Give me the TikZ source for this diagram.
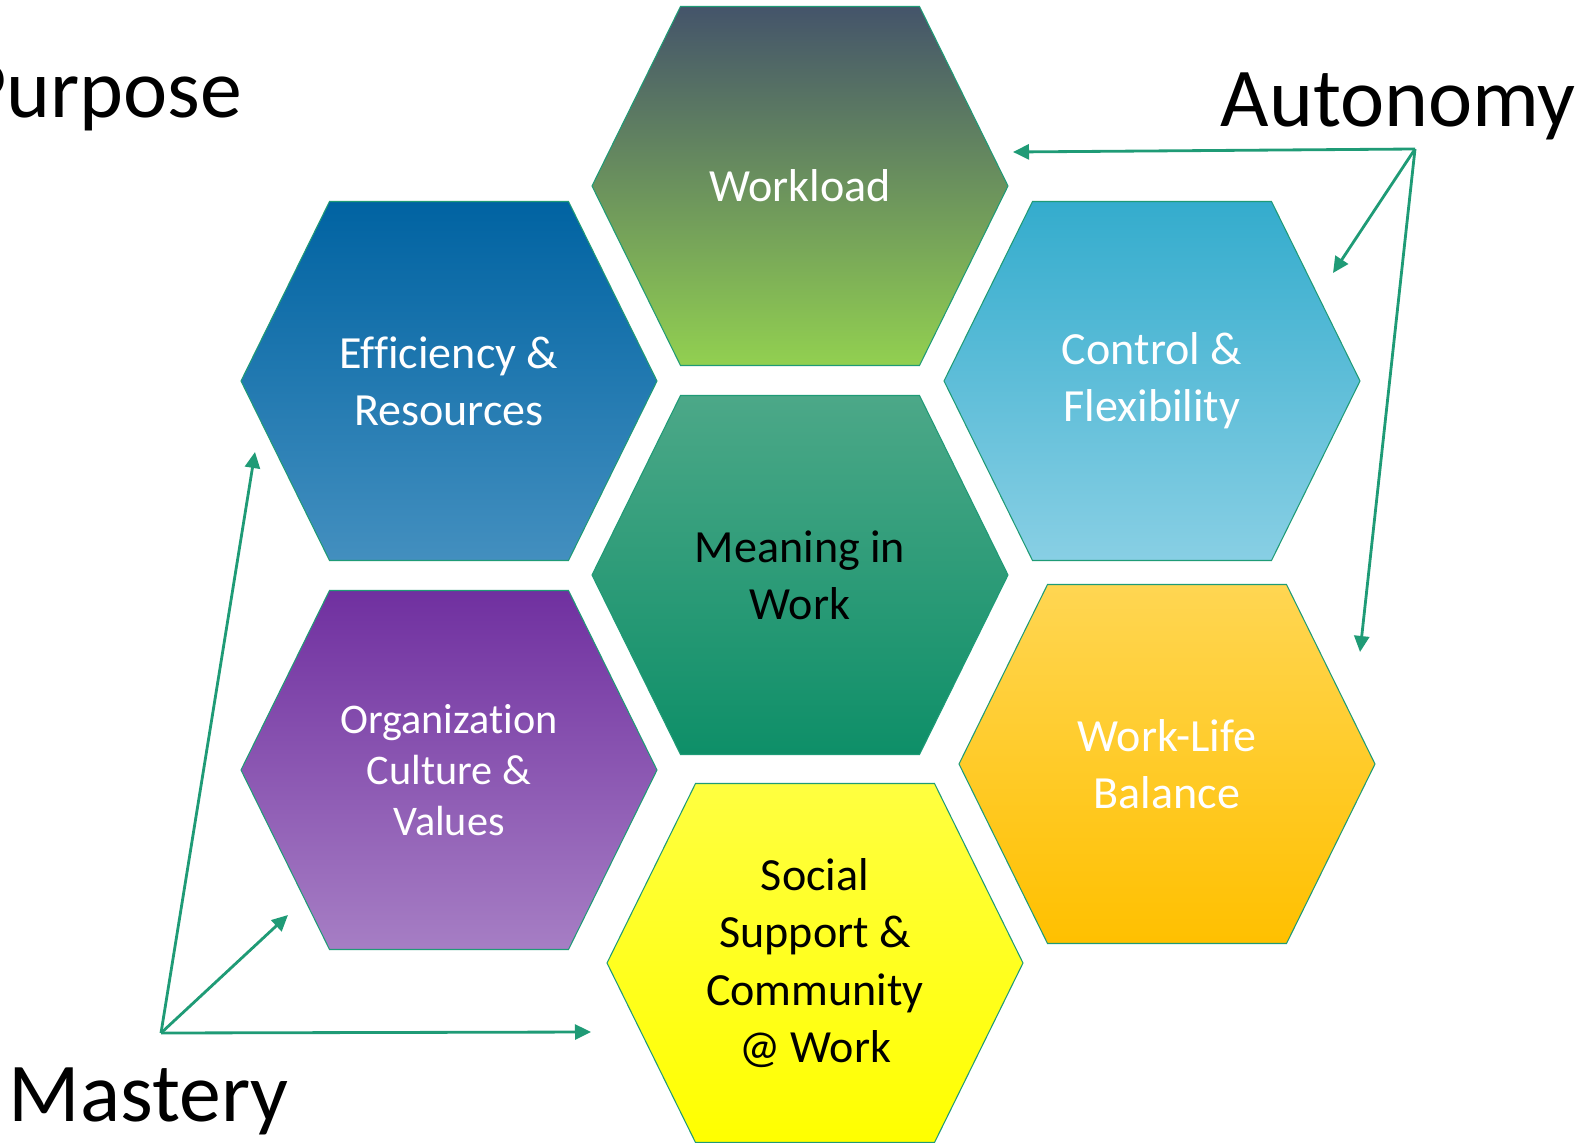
\documentclass[tikz,border=0pt]{standalone}
\usepackage{fontspec}
\setmainfont{Carlito}[Ligatures=NoCommon]
\usetikzlibrary{arrows.meta}
\definecolor{edge}{RGB}{31,155,118}
\definecolor{wlTop}{RGB}{68,84,106}
\definecolor{wlBot}{RGB}{146,208,80}
\definecolor{efTop}{RGB}{0,99,162}
\definecolor{efBot}{RGB}{67,143,191}
\definecolor{ctTop}{RGB}{52,172,205}
\definecolor{ctBot}{RGB}{136,207,228}
\definecolor{mnTop}{RGB}{76,168,136}
\definecolor{mnMid}{RGB}{25,160,120}
\definecolor{mnBot}{RGB}{14,143,104}
\definecolor{orTop}{RGB}{112,48,160}
\definecolor{orBot}{RGB}{166,126,196}
\definecolor{wbTop}{RGB}{255,214,82}
\definecolor{wbBot}{RGB}{255,192,0}
\definecolor{ssTop}{RGB}{255,255,64}
\definecolor{ssBot}{RGB}{255,255,0}
\newcommand{\cellfont}{\fontsize{13.1}{16.3}\selectfont}
\newcommand{\smallcellfont}{\fontsize{12}{14.5}\selectfont}
\newcommand{\axisfont}{\fontsize{23.8}{28}\selectfont}
\tikzstyle{cell} = [draw=edge,line width=0.3pt]
\tikzstyle{hex} = [insert path={+(-208,0) -- +(-119.5,-179.5) -- +(119.5,-179.5) -- +(208,0) -- +(119.5,179.5) -- +(-119.5,179.5) -- cycle}]
\tikzstyle{light} = [align=center,text=white,font=\cellfont,inner sep=0pt]
\tikzstyle{dark} = [align=center,text=black,font=\cellfont,inner sep=0pt]
\tikzstyle{axis} = [font=\axisfont,inner sep=0pt]
\tikzstyle{link} = [draw=edge,line width=0.8pt,-{Triangle[length=0.16cm,width=0.15cm]}]
\begin{document}
\begin{tikzpicture}[x=0.01cm,y=-0.01cm]
				\useasboundingbox (0,0) rectangle (1582,1143);
				\path [cell,top color=wlTop,bottom color=wlBot] (800,186) node (workload) [light] {Workload} [hex];
				\path [cell,top color=efTop,bottom color=efBot] (449,381) node (efficiency) [light] {Efficiency \&\\Resources} [hex];
				\path [cell,top color=ctTop,bottom color=ctBot] (1152,381) node (control) [light] {Control \&\\Flexibility} [hex];
				\path [cell,top color=mnTop,middle color=mnMid,bottom color=mnBot] (800,575) node (meaning) [dark] {Meaning in\\Work} [hex];
				\path [cell,top color=orTop,bottom color=orBot] (449,770) node (culture) [light,font=\smallcellfont] {Organization\\Culture \&\\Values} [hex];
				\path [cell,top color=wbTop,bottom color=wbBot] (1167,764) node (balance) [light] {Work-Life\\Balance} [hex];
				\path [cell,top color=ssTop,bottom color=ssBot] (815,963) node (social) [dark] {Social\\Support \&\\Community\\@ Work} [hex];
				\node (purpose) [axis,anchor=base east] at (243,118) {Purpose};
				\node (autonomy) [axis,anchor=base west] at (1220,127) {Autonomy};
				\node (mastery) [axis,anchor=base west] at (8,1121) {Mastery};
				\coordinate (autonomy_o) at (1415,149);
				\coordinate (mastery_o) at (161,1033);
				\coordinate (to_workload) at (1013,152);
				\coordinate (to_control) at (1333,273);
				\coordinate (to_balance) at (1360,652);
				\coordinate (to_efficiency) at (255,452);
				\coordinate (to_culture) at (288,915);
				\coordinate (to_social) at (591,1032);
				\draw [link] (autonomy_o) -- (to_workload);
				\draw [link] (autonomy_o) -- (to_control);
				\draw [link] (autonomy_o) -- (to_balance);
				\draw [link] (mastery_o) -- (to_efficiency);
				\draw [link] (mastery_o) -- (to_culture);
				\draw [link] (mastery_o) -- (to_social);
			\end{tikzpicture}
\end{document}
